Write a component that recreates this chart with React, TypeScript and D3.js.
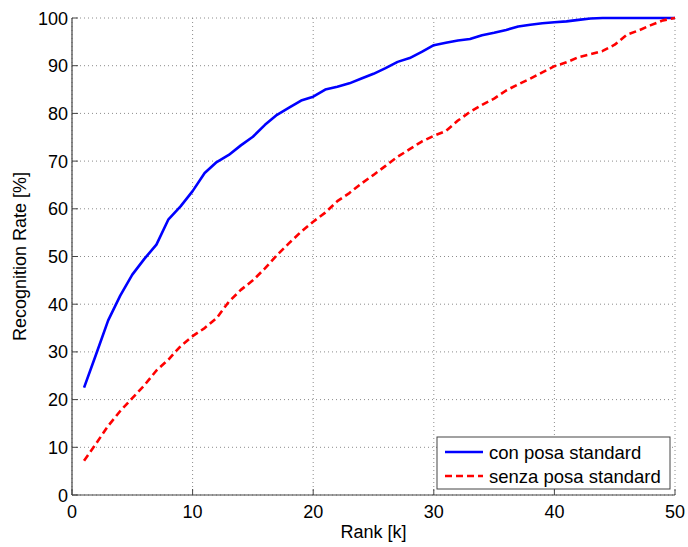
import React from "react";
import * as d3 from "d3";

// rank k = 1..50
const ranks = d3.range(1, 51);

const conPosa = [
  22.5, 29.5, 36.6, 41.8, 46.2, 49.5, 52.5, 57.8, 60.5, 63.7,
  67.5, 69.8, 71.3, 73.3, 75.1, 77.6, 79.7, 81.2, 82.7, 83.5,
  85.0, 85.6, 86.3, 87.3, 88.3, 89.5, 90.8, 91.6, 92.9, 94.3,
  94.8, 95.3, 95.6, 96.4, 96.9, 97.5, 98.2, 98.6, 98.9, 99.1,
  99.3, 99.6, 99.9, 100, 100, 100, 100, 100, 100, 100,
];

const senzaPosa = [
  7.2, 10.8, 14.5, 17.6, 20.3, 23.0, 26.1, 28.4, 31.2, 33.3,
  35.0, 37.1, 40.5, 43.0, 45.0, 47.5, 50.3, 52.8, 55.2, 57.3,
  59.2, 61.6, 63.3, 65.3, 67.1, 69.0, 70.9, 72.5, 74.1, 75.3,
  76.3, 78.5, 80.3, 81.8, 83.1, 84.8, 86.1, 87.3, 88.6, 89.9,
  90.7, 91.8, 92.4, 93.1, 94.4, 96.5, 97.4, 98.5, 99.5, 100,
];

const xTicks = [0, 10, 20, 30, 40, 50];
const yTicks = [0, 10, 20, 30, 40, 50, 60, 70, 80, 90, 100];
const legendLabels = ["con posa standard", "senza posa standard"];

const W = 688;
const H = 547;
const left = 72;
const right = 675;
const top = 18;
const bottom = 495;
const font = "'Liberation Sans', Arial, sans-serif";

export default function App() {
  const x = d3.scaleLinear().domain([0, 50]).range([left, right]);
  const y = d3.scaleLinear().domain([0, 100]).range([bottom, top]);

  // build a line generator for a series
  const line = (vals: number[]) =>
    d3.line<number>()
      .x((_, i) => x(ranks[i]))
      .y((d) => y(d))(vals) || "";

  const series = [
    { vals: conPosa, color: "#0000ff", dash: undefined as string | undefined },
    { vals: senzaPosa, color: "#ff0000", dash: "7,4" },
  ];

  return (
    <svg
      width={W}
      height={H}
      style={{ position: "absolute", left: 0, top: 0, background: "#fff" }}
      fontFamily={font}
    >
      <rect x={0} y={0} width={W} height={H} fill="#fff" />

      {/* grid */}
      {xTicks.map((t) => (
        <line key={"gx" + t} x1={x(t)} x2={x(t)} y1={top} y2={bottom}
          stroke="#8c8c8c" strokeWidth={1} strokeDasharray="1,3" />
      ))}
      {yTicks.map((t) => (
        <line key={"gy" + t} x1={left} x2={right} y1={y(t)} y2={y(t)}
          stroke="#8c8c8c" strokeWidth={1} strokeDasharray="1,3" />
      ))}

      {/* axes */}
      <line x1={left} x2={right} y1={bottom} y2={bottom} stroke="#444" strokeWidth={1.2} />
      <line x1={left} x2={left} y1={top} y2={bottom} stroke="#444" strokeWidth={1.2} />
      {xTicks.map((t) => (
        <g key={"xt" + t}>
          <line x1={x(t)} x2={x(t)} y1={bottom} y2={bottom - 6} stroke="#444" />
          <text x={x(t)} y={bottom + 23} textAnchor="middle" fontSize={18} fill="#000">{t}</text>
        </g>
      ))}
      {yTicks.map((t) => (
        <g key={"yt" + t}>
          <line x1={left} x2={left + 6} y1={y(t)} y2={y(t)} stroke="#444" />
          <text x={left - 4} y={y(t) + 6.5} textAnchor="end" fontSize={18} fill="#000">{t}</text>
        </g>
      ))}

      {/* series */}
      {series.map((s, i) => (
        <path key={i} d={line(s.vals)} fill="none" stroke={s.color} strokeWidth={2.6}
          strokeDasharray={s.dash} strokeLinejoin="round" />
      ))}

      {/* axis labels */}
      <text x={(left + right) / 2} y={538} textAnchor="middle" fontSize={18} fill="#000">Rank [k]</text>
      <text transform={`translate(26, ${(top + bottom) / 2}) rotate(-90)`} textAnchor="middle"
        fontSize={18} fill="#000">Recognition Rate [%]</text>

      {/* legend */}
      <g transform="translate(437, 437)">
        <rect x={0} y={0} width={233} height={52} fill="#fff" stroke="#444" strokeWidth={1} />
        {legendLabels.map((lab, i) => (
          <g key={lab} transform={`translate(0, ${15 + i * 24})`}>
            <line x1={8} x2={46} y1={0} y2={0} stroke={series[i].color} strokeWidth={2.6}
              strokeDasharray={series[i].dash} />
            <text x={52} y={6.5} fontSize={18.5} fill="#000">{lab}</text>
          </g>
        ))}
      </g>
    </svg>
  );
}
